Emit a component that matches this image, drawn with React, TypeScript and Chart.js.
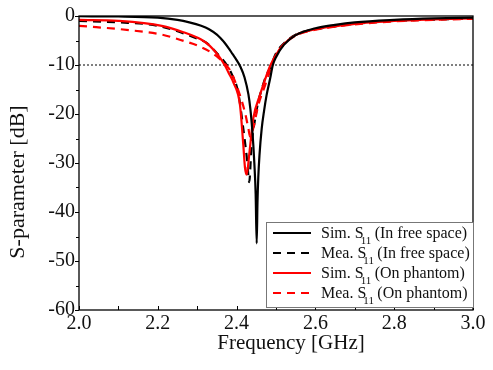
import React, { useEffect, useRef } from "react";
import { Chart, registerables } from "chart.js";

Chart.register(...registerables);

// ---- Data ----
const simFreeFreq = [2.0, 2.1, 2.2, 2.25, 2.28, 2.31, 2.33, 2.35, 2.36, 2.37, 2.38, 2.39, 2.4, 2.41, 2.42, 2.43, 2.435, 2.44, 2.4424, 2.445, 2.4484, 2.451, 2.453, 2.455, 2.458, 2.4637, 2.47, 2.476, 2.485, 2.492, 2.5, 2.52, 2.55, 2.6, 2.65, 2.7, 2.8, 2.9, 3.0];
const simFreeDb = [-0.05, -0.1, -0.35, -0.8, -1.3, -2.0, -2.7, -3.8, -4.6, -5.5, -6.6, -7.8, -9.0, -10.4, -12.5, -16.0, -19.0, -23.5, -26.3, -30, -36.4, -46.4, -38, -33, -28.5, -23, -19.2, -16.2, -12.8, -10, -8.4, -5.9, -3.9, -2.5, -1.8, -1.3, -0.8, -0.5, -0.35];

const meaFreeFreq = [2.0, 2.1, 2.2, 2.3, 2.324, 2.35, 2.37, 2.3875, 2.404, 2.417, 2.427, 2.432, 2.438, 2.447, 2.455, 2.464, 2.475, 2.485, 2.5, 2.52, 2.55, 2.6, 2.65, 2.7, 2.8, 2.9, 3.0];
const meaFreeDb = [-1.0, -1.3, -2.0, -4.6, -5.5, -7.6, -9.4, -11.8, -15.6, -23, -29.7, -33.9, -26.3, -21, -17.5, -14.9, -12.2, -10.6, -7.6, -5.6, -3.8, -2.7, -2.1, -1.6, -1.0, -0.75, -0.5];

const simPhantomFreq = [2.0, 2.1, 2.21, 2.265, 2.31, 2.332, 2.354, 2.371, 2.379, 2.392, 2.4086, 2.417, 2.4213, 2.4256, 2.432, 2.4424, 2.459, 2.47, 2.485, 2.5, 2.52, 2.55, 2.6, 2.65, 2.7, 2.8, 2.9, 3.0];
const simPhantomDb = [-0.8, -1.0, -2.0, -3.3, -4.8, -6.1, -8.1, -10.2, -11.5, -13.6, -18.2, -26.3, -31, -32.4, -28.3, -20.9, -16.2, -13.5, -10.2, -7.9, -5.7, -3.9, -2.7, -2.1, -1.6, -1.0, -0.7, -0.5];

const meaPhantomFreq = [2.0, 2.13, 2.21, 2.27, 2.3, 2.337, 2.355, 2.373, 2.385, 2.4086, 2.421, 2.43, 2.434, 2.442, 2.455, 2.472, 2.489, 2.5, 2.52, 2.55, 2.6, 2.65, 2.7, 2.8, 2.9, 3.0];
const meaPhantomDb = [-2.0, -2.9, -3.8, -5.2, -6.0, -7.5, -8.6, -10.0, -11.3, -16.2, -19.6, -23, -24.6, -23, -18.2, -14.2, -10.2, -8.0, -5.8, -4.0, -2.8, -2.2, -1.7, -1.1, -0.8, -0.55];

const thresholdDb = -10;
const seriesLabels = [
  "Sim. S\u2081\u2081 (In free space)",
  "Mea. S\u2081\u2081 (In free space)",
  "Sim. S\u2081\u2081 (On phantom)",
  "Mea. S\u2081\u2081 (On phantom)",
];
const xTitle = "Frequency [GHz]";
const yTitle = "S-parameter [dB]";
const xMin = 2.0, xMax = 3.0, xMajor = 0.2, xMinor = 0.1;
const yMin = -60, yMax = 0, yMajor = 10, yMinor = 5;

const FONT = "'Liberation Serif', 'Times New Roman', serif";

const pts = (xs: number[], ys: number[]) => xs.map((x, i) => ({ x, y: ys[i] }));

const framePlugin = {
  id: "frameTicks",
  afterDatasetsDraw(chart: any) {
    const { ctx, chartArea: a, scales } = chart;
    const xs = scales.x, ys = scales.y;
    ctx.save();
    ctx.strokeStyle = "#000";
    ctx.lineWidth = 1.3;
    ctx.strokeRect(a.left, a.top, a.right - a.left, a.bottom - a.top);
    ctx.lineWidth = 1;
    ctx.beginPath();
    const nx = Math.round((xMax - xMin) / xMinor);
    for (let i = 0; i <= nx; i++) {
      const px = Math.round(xs.getPixelForValue(xMin + i * xMinor)) + 0.5;
      ctx.moveTo(px, a.bottom);
      ctx.lineTo(px, a.bottom - 4);
    }
    const ny = Math.round((yMax - yMin) / yMinor);
    for (let i = 0; i <= ny; i++) {
      const v = yMin + i * yMinor;
      const py = Math.round(ys.getPixelForValue(v)) + 0.5;
      const major = v % yMajor === 0;
      ctx.moveTo(a.left, py);
      ctx.lineTo(a.left - (major ? 4 : 3), py);
    }
    ctx.stroke();

    // axis titles
    ctx.fillStyle = "#111";
    ctx.textAlign = "center";
    ctx.textBaseline = "middle";
    ctx.font = `21px ${FONT}`;
    ctx.fillText(xTitle, (a.left + a.right) / 2 + 15, 343);
    ctx.save();
    ctx.translate(18, (a.top + a.bottom) / 2 + 19);
    ctx.rotate(-Math.PI / 2);
    ctx.font = `22px ${FONT}`;
    ctx.fillText(yTitle, 0, 0);
    ctx.restore();
    ctx.restore();
  },
};

const legendPlugin = {
  id: "customLegend",
  afterDraw(chart: any) {
    const { ctx, chartArea: a } = chart;
    const items = chart.data.datasets.filter((d: any) => !d.hideInLegend);
    const rowH = 20;
    const boxW = 207;
    const boxH = rowH * items.length + 5;
    const x0 = a.right - boxW;
    const y0 = a.bottom - boxH - 3;
    ctx.save();
    ctx.fillStyle = "#fff";
    ctx.fillRect(x0, y0, boxW, boxH);
    ctx.strokeStyle = "#777";
    ctx.lineWidth = 1;
    ctx.strokeRect(x0 + 0.5, y0 + 0.5, boxW, boxH);
    items.forEach((d: any, i: number) => {
      const cy = y0 + 11 + i * rowH;
      ctx.beginPath();
      ctx.strokeStyle = d.borderColor;
      ctx.lineWidth = 2.2;
      ctx.setLineDash(d.borderDash || []);
      ctx.moveTo(x0 + 7, cy);
      ctx.lineTo(x0 + 45, cy);
      ctx.stroke();
      ctx.setLineDash([]);
      const label: string = d.label;
      const idx = label.indexOf("\u2081\u2081");
      const pre = label.slice(0, idx);
      const post = label.slice(idx + 2);
      ctx.fillStyle = "#111";
      ctx.textBaseline = "middle";
      ctx.font = `16px ${FONT}`;
      let tx = x0 + 55;
      ctx.fillText(pre, tx, cy + 1);
      tx += ctx.measureText(pre).width;
      ctx.font = `11px ${FONT}`;
      ctx.fillText("11", tx - 3, cy + 8);
      tx += ctx.measureText("1").width + 1.5;
      ctx.font = `16px ${FONT}`;
      ctx.fillText(post, tx, cy + 1);
    });
    ctx.restore();
  },
};

export default function App() {
  const ref = useRef<HTMLCanvasElement | null>(null);
  useEffect(() => {
    if (!ref.current) return;
    const chart = new Chart(ref.current, {
      type: "line",
      data: {
        datasets: [
          { label: seriesLabels[0], data: pts(simFreeFreq, simFreeDb), borderColor: "#000", borderWidth: 2.2, order: 0 },
          { label: seriesLabels[1], data: pts(meaFreeFreq, meaFreeDb), borderColor: "#000", borderWidth: 2.2, borderDash: [8, 6], order: 3 },
          { label: seriesLabels[2], data: pts(simPhantomFreq, simPhantomDb), borderColor: "#ff0000", borderWidth: 2.2, order: 1 },
          { label: seriesLabels[3], data: pts(meaPhantomFreq, meaPhantomDb), borderColor: "#ff0000", borderWidth: 2.2, borderDash: [8, 6], order: 2 },
          { label: "-10 dB", hideInLegend: true, data: [{ x: xMin, y: thresholdDb }, { x: xMax, y: thresholdDb }], borderColor: "#000", borderWidth: 1.2, borderDash: [2, 2], order: 10 } as any,
        ] as any,
      },
      options: {
        responsive: false,
        animation: false,
        devicePixelRatio: 1,
        layout: { padding: { top: 12, right: 20, left: 0, bottom: 0 } },
        elements: {
          point: { radius: 0 },
          line: { cubicInterpolationMode: "monotone", fill: false },
        },
        plugins: { legend: { display: false }, tooltip: { enabled: false } },
        scales: {
          x: {
            type: "linear",
            min: xMin,
            max: xMax,
            grid: { display: false, drawTicks: false },
            border: { display: false },
            ticks: {
              stepSize: xMajor,
              padding: 2,
              color: "#111",
              font: { family: FONT, size: 20 },
              callback: (v: any) => Number(v).toFixed(1),
            },
            title: { display: false, text: xTitle },
            afterFit: (s: any) => { s.height = 60; },
          },
          y: {
            type: "linear",
            min: yMin,
            max: yMax,
            grid: { display: false, drawTicks: false },
            border: { display: false },
            ticks: {
              stepSize: yMajor,
              padding: 4,
              color: "#111",
              font: { family: FONT, size: 20 },
              callback: (v: any) => String(v),
            },
            title: { display: false, text: yTitle },
            afterFit: (s: any) => { s.width = 79; },
          },
        },
      } as any,
      plugins: [framePlugin, legendPlugin],
    });
    return () => chart.destroy();
  }, []);
  return (
    <div style={{ position: "absolute", left: 0, top: 0, width: 493, height: 370, background: "#fff" }}>
      <canvas ref={ref} width={493} height={370} />
    </div>
  );
}
